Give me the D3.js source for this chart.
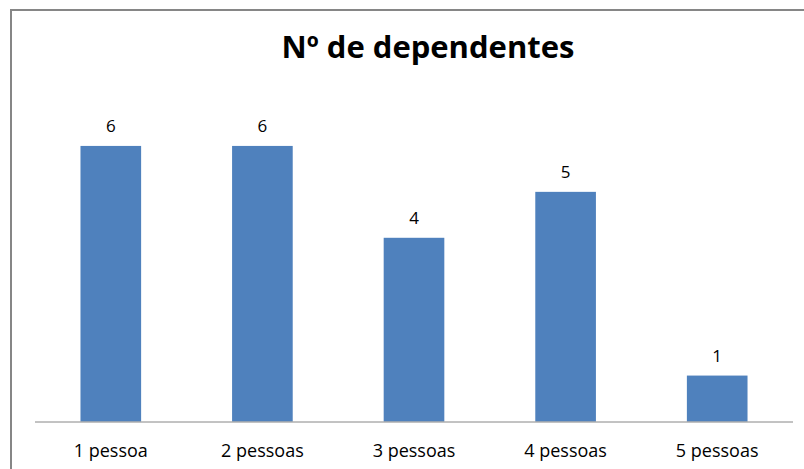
<!DOCTYPE html>
<html>
<head>
<meta charset="utf-8">
<script src="https://cdn.jsdelivr.net/npm/d3@7"></script>
<style>
  body { margin: 0; background: #fff; }
  svg { display: block; }
</style>
</head>
<body>
<svg id="chart" width="804" height="469"></svg>
<script>
// Data
var categories = ["1 pessoa", "2 pessoas", "3 pessoas", "4 pessoas", "5 pessoas"];
var values = [6, 6, 4, 5, 1];
var title = "Nº de dependentes";

var data = categories.map(function(c, i) { return {cat: c, value: values[i]}; });

var margin = {top: 100, left: 35, right: 11, bottom: 47.5};
var W = 804, H = 469;
var fontFamily = "'Open Sans', 'Noto Sans', sans-serif";

var svg = d3.select("#chart");

// chart area border (cropped at right and bottom)
svg.append("rect")
   .attr("x", 11).attr("y", 10)
   .attr("width", 900).attr("height", 600)
   .attr("fill", "none")
   .attr("stroke", "#868686")
   .attr("stroke-width", 2);

var x = d3.scaleBand()
          .domain(categories)
          .range([margin.left, W - margin.right])
          .paddingInner(0.6)
          .paddingOuter(0.3);

var y = d3.scaleLinear()
          .domain([0, 7])
          .range([H - margin.bottom, margin.top]);

// title
svg.append("text")
   .attr("x", 428)
   .attr("y", 58)
   .attr("text-anchor", "middle")
   .style("font-family", fontFamily)
   .style("font-weight", "bold")
   .style("font-size", "31px")
   .style("fill", "#000")
   .text(title);

// bars
svg.selectAll("rect.bar")
   .data(data)
   .enter().append("rect")
   .attr("class", "bar")
   .attr("x", function(d) { return x(d.cat); })
   .attr("y", function(d) { return y(d.value); })
   .attr("width", x.bandwidth())
   .attr("height", function(d) { return y(0) - y(d.value); })
   .attr("fill", "#4F81BD");

// value labels
svg.selectAll("text.val")
   .data(data)
   .enter().append("text")
   .attr("class", "val")
   .attr("x", function(d) { return x(d.cat) + x.bandwidth() / 2; })
   .attr("y", function(d) { return y(d.value) - 14; })
   .attr("text-anchor", "middle")
   .style("font-family", fontFamily)
   .style("font-size", "17px")
   .style("fill", "#000")
   .text(function(d) { return d.value; });

// x axis
var xAxis = svg.append("g")
   .attr("class", "x-axis")
   .attr("transform", "translate(0," + y(0) + ")")
   .call(d3.axisBottom(x).tickSize(0).tickSizeOuter(0));

xAxis.select(".domain")
     .attr("stroke", "#868686")
     .attr("d", "M" + margin.left + ",0.5H" + (W - margin.right));

xAxis.selectAll("text")
     .attr("y", 35.5)
     .attr("dy", null)
     .style("font-family", fontFamily)
     .style("font-size", "18px")
     .style("fill", "#000");
</script>
</body>
</html>
